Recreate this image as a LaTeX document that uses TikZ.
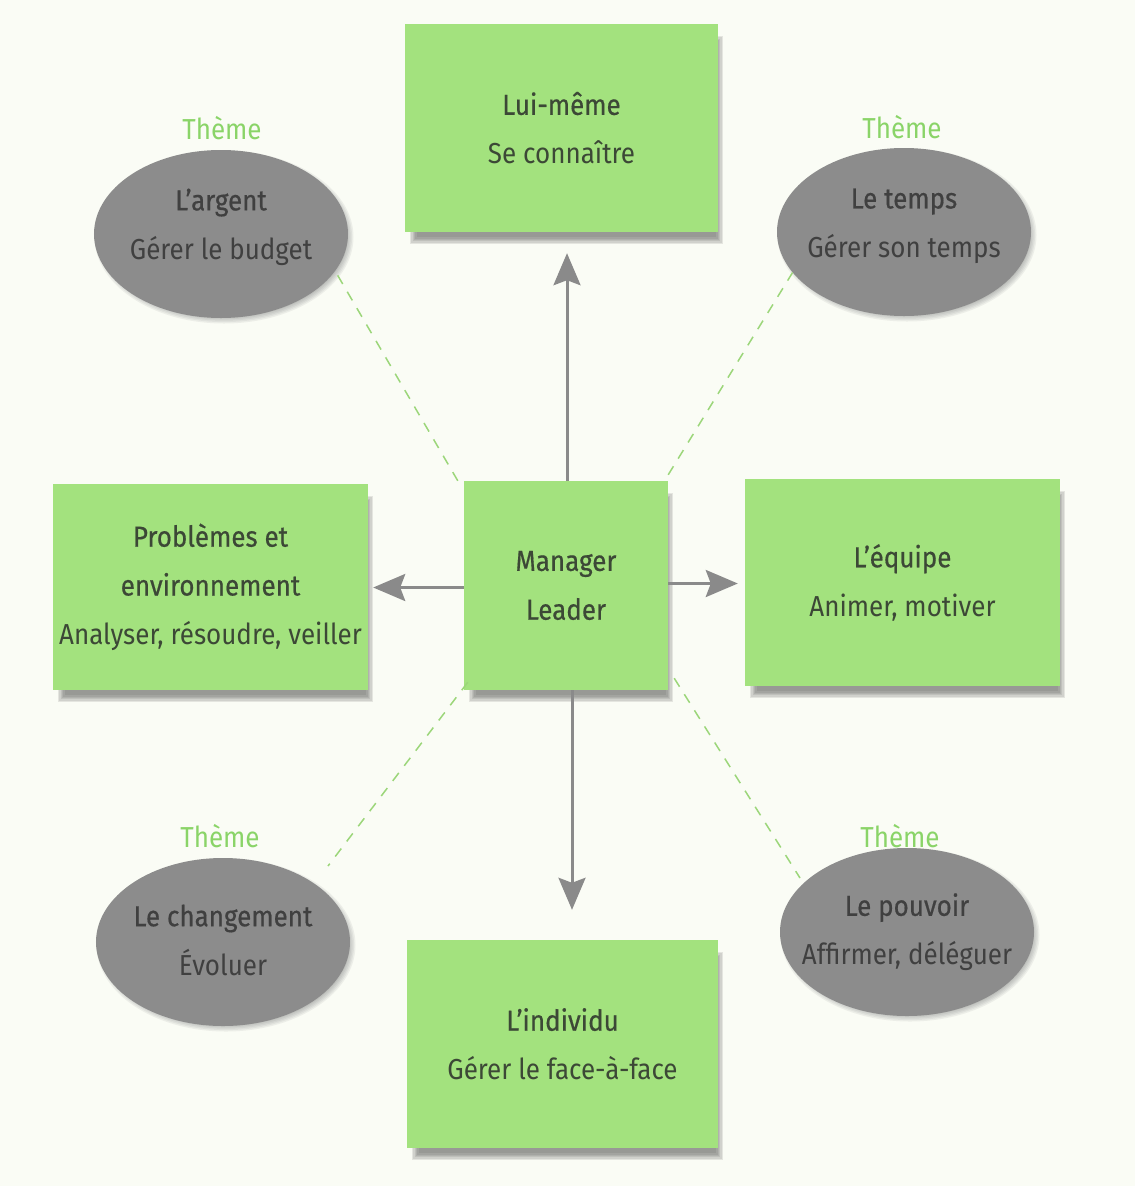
\documentclass[tikz,border=0pt]{standalone}
\usepackage{fontspec}
\setmainfont{Fira Sans}[FakeStretch=0.9]
\newfontfamily\headfont{Fira Sans}[FakeStretch=0.9, FakeBold=0.5]
\usetikzlibrary{arrows.meta,shapes.geometric,backgrounds}

\definecolor{paper}{RGB}{250,252,245}
\definecolor{boxgreen}{RGB}{163,226,126}
\definecolor{boxtext}{RGB}{60,72,54}
\definecolor{ovalgray}{RGB}{140,140,140}
\definecolor{ovaltext}{RGB}{64,64,64}
\definecolor{themegreen}{RGB}{138,212,104}
\definecolor{dashgreen}{RGB}{156,214,122}
\definecolor{arrowgray}{RGB}{138,138,138}
\definecolor{shade}{RGB}{80,80,80}

\tikzset{
  txt/.style={font=\fontsize{29}{49}\selectfont, align=center},
  greenbox/.style={txt, rectangle, fill=boxgreen, text=boxtext, inner sep=0pt},
  theme/.style={ellipse, fill=ovalgray, inner sep=0pt,
    minimum width=254bp, minimum height=168bp},
  themetext/.style={txt, text=ovaltext, inner sep=0pt},
  themelabel/.style={txt, text=themegreen, inner sep=0pt},
  link/.style={-{Stealth[length=32bp, width=27bp, inset=5bp]}, draw=arrowgray, fill=arrowgray, line width=3bp},
  themelink/.style={draw=dashgreen, line width=1.5bp, dash pattern=on 10bp off 9bp},
  shadowlayer/.style={fill=shade, fill opacity=0.13, draw=none},
}

% soft shadow under a box: stacked, shrinking translucent rectangles
\newcommand\boxshade[1]{%
  \foreach \k in {0,...,5}{%
    \fill[shadowlayer] ([xshift={5bp+\k*1.4bp}, yshift={-12bp+\k*1.4bp}]#1.south west)
      rectangle ([xshift={5bp-\k*1.4bp}, yshift={-12bp-\k*1.4bp}]#1.north east);
  }}
% soft rim for an oval theme
\newcommand\ovalshade[1]{%
  \foreach \k in {0,...,4}{%
    \fill[shadowlayer, fill opacity=0.08] ([xshift=3bp, yshift=-3bp]#1.center)
      ellipse [x radius={127bp+2.5bp-\k*1.4bp}, y radius={84bp+2.5bp-\k*1.4bp}];
  }}

\begin{document}
\begin{tikzpicture}[x=1bp, y=-1bp]
  \useasboundingbox (0,0) rectangle (1135,1186);

  % the central role and the four areas it acts on
  \node[greenbox, minimum width=204bp, minimum height=209bp] (mgr) at (566,585.5)
    {\headfont Manager\\\headfont Leader};
  \node[greenbox, minimum width=313bp, minimum height=208bp] (self) at (561.5,128)
    {\headfont Lui-même\\Se connaître};
  \node[greenbox, minimum width=315bp, minimum height=206bp] (env) at (210.5,587)
    {\headfont Problèmes et\\\headfont environnement\\Analyser, résoudre, veiller};
  \node[greenbox, minimum width=315bp, minimum height=207bp] (team) at (902.5,582.5)
    {\headfont L’équipe\\Animer, motiver};
  \node[greenbox, minimum width=311bp, minimum height=208bp] (person) at (562.5,1044)
    {\headfont L’individu\\Gérer le face-à-face};

  % the four themes
  \node[theme] (money) at (221,234) {};
  \node[theme] (time) at (904,232) {};
  \node[theme] (change) at (223,942) {};
  \node[theme] (power) at (907,932) {};
  \node[themetext] (moneyt) at (221,227) {\headfont L’argent\\Gérer le budget};
  \node[themetext] (timet) at (904,226) {\headfont Le temps\\Gérer son temps};
  \node[themetext] (changet) at (223,940) {\headfont Le changement\\Évoluer};
  \node[themetext] (powert) at (907,932) {\headfont Le pouvoir\\Affirmer, déléguer};

  \node[themelabel] (lmoney) at (222,128) {Thème};
  \node[themelabel] (ltime) at (902,127) {Thème};
  \node[themelabel] (lchange) at (220,836) {Thème};
  \node[themelabel] (lpower) at (900,836) {Thème};

  % arrows out of the centre
  \draw[link, shorten >=21bp] ([xshift=1bp]mgr.north) -- ([xshift=1bp]mgr.north |- self.south);
  \draw[link, shorten >=30bp] ([xshift=6bp]mgr.south) -- ([xshift=6bp]mgr.south |- person.north);
  \draw[link, shorten >=5bp] ([yshift=-2bp]mgr.west) -- ([yshift=-2bp]mgr.west -| env.east);
  \draw[link, shorten >=7bp] ([yshift=2bp]mgr.east) -- ([yshift=2bp]mgr.east -| team.west);

  % dashed ties to the themes
  \coordinate (cl) at (328,866);
  \coordinate (cp) at (800,878);
  \draw[themelink] ([xshift=-6bp]mgr.north west) -- (money.-18);
  \draw[themelink] ([yshift=6bp]mgr.north east) -- (time.200);
  \draw[themelink] ([xshift=4bp, yshift=8bp]mgr.south west) -- (cl);
  \draw[themelink] ([xshift=6bp, yshift=12bp]mgr.south east) -- (cp);

  % paper and soft shadows behind everything
  \begin{scope}[on background layer]
    \fill[paper] (0,0) rectangle (1135,1186);
    \boxshade{mgr}\boxshade{self}\boxshade{env}\boxshade{team}\boxshade{person}
    \ovalshade{money}\ovalshade{time}\ovalshade{change}\ovalshade{power}
  \end{scope}
\end{tikzpicture}
\end{document}
